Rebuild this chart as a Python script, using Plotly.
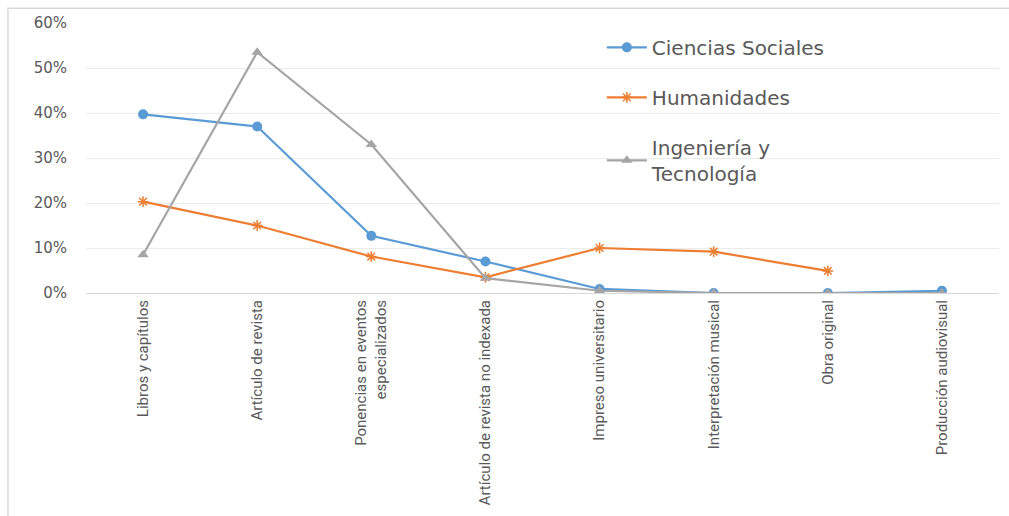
import plotly.graph_objects as go

# Categorías de producción académica
categorias = [
    "Libros y capítulos",
    "Artículo de revista",
    "Ponencias en eventos<br>especializados",
    "Artículo de revista no indexada",
    "Impreso universitario",
    "Interpretación musical",
    "Obra original",
    "Producción audiovisual",
]

# Porcentajes por área (None = sin dato)
ciencias_sociales = [0.397, 0.370, 0.127, 0.070, 0.009, 0.0, 0.0, 0.005]
humanidades = [0.203, 0.150, 0.081, 0.035, 0.100, 0.092, 0.049, None]
ingenieria = [0.085, 0.535, 0.330, 0.033, 0.005, 0.0, 0.0, 0.0]

ticks_y = [0, 0.1, 0.2, 0.3, 0.4, 0.5, 0.6]
etiquetas_y = ["0%", "10%", "20%", "30%", "40%", "50%", "60%"]

series = [
    ("Ciencias Sociales", ciencias_sociales, "#5B9BD5", dict(symbol="circle", size=10)),
    ("Humanidades", humanidades, "#ED7D31", dict(symbol="asterisk-open", size=9, line=dict(width=1.5, color="#ED7D31"))),
    ("Ingeniería y<br>Tecnología", ingenieria, "#A5A5A5", dict(symbol="triangle-up", size=10)),
]

fig = go.Figure()
for i, (nombre, valores, color, marcador) in enumerate(series):
    fig.add_trace(go.Scatter(
        x=categorias, y=valores, name=nombre, mode="lines+markers",
        line=dict(color=color, width=2.2),
        marker=dict(color=color, **marcador),
        legendgroup=f"g{i}",
        connectgaps=False,
    ))

fig.update_layout(
    width=1009, height=516,
    margin=dict(l=86, r=10, t=23, b=223),
    paper_bgcolor="white", plot_bgcolor="white",
    showlegend=True,
    legend=dict(
        x=0.565, y=0.982, xanchor="left", yanchor="top",
        font=dict(family="DejaVu Sans", size=20, color="#595959"),
        tracegroupgap=21, bgcolor="rgba(0,0,0,0)", itemwidth=40,
    ),
    xaxis=dict(
        type="category", range=[-0.5, 7.5], tickangle=-90,
        tickfont=dict(family="Roboto", size=15, color="#595959"),
        showgrid=False, showline=True, linecolor="#D9D9D9", linewidth=1,
        ticks="", zeroline=False,
    ),
    yaxis=dict(
        range=[0, 0.6], tickvals=ticks_y, ticktext=etiquetas_y,
        tickfont=dict(family="DejaVu Sans", size=15, color="#595959"),
        showgrid=True, gridcolor="#EBEBEB", gridwidth=1,
        zeroline=False, showline=False, ticks="", ticklabelstandoff=18,
    ),
)

# Marco exterior del gráfico
fig.add_shape(type="rect", xref="paper", yref="paper",
              x0=-0.0855, x1=1.05, y0=-0.95, y1=1.055,
              line=dict(color="#D9D9D9", width=1.5), fillcolor="rgba(0,0,0,0)",
              layer="below")

fig.write_html("out.html")
